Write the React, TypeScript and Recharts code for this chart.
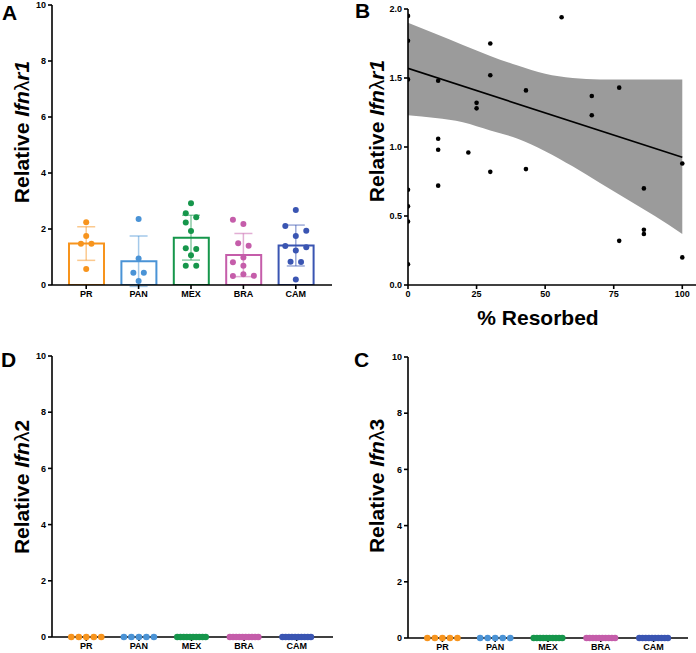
import { ComposedChart, Bar, Cell, Scatter, ErrorBar, XAxis, YAxis, Area, Line } from 'recharts';

const groups = ['PR', 'PAN', 'MEX', 'BRA', 'CAM'];
const groupColors = ['#F7941D', '#4A93D6', '#16964B', '#C55DAA', '#3A55B2'];

// Panel A: Ifnλr1 per group (bar = mean, whisker = SD)
const r1Means = [1.48, 0.85, 1.69, 1.07, 1.41];
const r1Sd = [0.6, 0.9, 0.8, 0.77, 0.73];
const r1Values = [
  [2.24, 1.75, 1.47, 1.47, 0.57],
  [2.36, 0.95, 0.44, 0.44, 0.14],
  [2.92, 2.56, 2.42, 2.23, 1.93, 1.31, 1.29, 1.06, 0.69, 0.69],
  [2.33, 2.18, 1.49, 1.4, 0.98, 0.81, 0.69, 0.38, 0.32, 0.33],
  [2.68, 2.11, 1.94, 1.75, 1.39, 1.35, 1.23, 0.83, 0.82, 0.2],
];
const r1Jitter = [
  [0, 0, -0.1, 0.1, 0],
  [0, 0, -0.1, 0.1, 0],
  [0, -0.1, 0.1, -0.1, 0, -0.1, 0.1, 0, -0.1, 0.1],
  [-0.2, 0, -0.1, 0.1, 0, -0.2, 0, 0, -0.2, 0.2],
  [0, -0.2, 0.2, 0, -0.2, 0.2, 0, -0.1, 0.1, 0],
];

// Panels D and C: Ifnλ2 / Ifnλ3, all samples at zero
const l2Values = [
  [0, 0, 0, 0, 0],
  [0, 0, 0, 0, 0],
  [0, 0, 0, 0, 0, 0, 0, 0, 0, 0],
  [0, 0, 0, 0, 0, 0, 0, 0, 0, 0],
  [0, 0, 0, 0, 0, 0, 0, 0, 0, 0],
];
const l3Values = [
  [0, 0, 0, 0, 0],
  [0, 0, 0, 0, 0],
  [0, 0, 0, 0, 0, 0, 0, 0, 0, 0],
  [0, 0, 0, 0, 0, 0, 0, 0, 0, 0],
  [0, 0, 0, 0, 0, 0, 0, 0, 0, 0],
];
const jitter5 = [-0.285, -0.143, 0, 0.143, 0.285];
const jitter10 = [-0.27, -0.21, -0.15, -0.09, -0.03, 0.03, 0.09, 0.15, 0.21, 0.27];
const zeroJitter = [jitter5, jitter5, jitter10, jitter10, jitter10];

// Panel B: % resorbed vs Ifnλr1
const resorbed = [0, 0, 0, 0, 0, 0, 0, 11, 11, 11, 11, 22, 25, 25, 30, 30, 30, 43, 43, 56, 67, 67, 77, 77, 86, 86, 86, 100, 100];
const r1Expr = [1.95, 1.77, 1.49, 0.69, 0.57, 0.46, 0.15, 1.48, 1.06, 0.98, 0.72, 0.96, 1.32, 1.28, 1.75, 1.52, 0.82, 1.41, 0.84, 1.94, 1.37, 1.23, 1.43, 0.32, 0.7, 0.4, 0.37, 0.88, 0.2];
const fitX = [0, 100];
const fitY = [1.57, 0.925];
const bandX = [0, 10, 20, 30, 40, 50, 60, 70, 80, 90, 100];
const bandHigh = [1.9, 1.82, 1.74, 1.66, 1.59, 1.53, 1.5, 1.49, 1.49, 1.49, 1.49];
const bandLow = [1.23, 1.21, 1.18, 1.12, 1.06, 0.97, 0.86, 0.74, 0.62, 0.5, 0.37];

const font = '"Liberation Sans", Arial, Helvetica, sans-serif';
const tickStyle = { fontSize: 9, fontWeight: 700, fill: '#000', fontFamily: font };
const axisStroke = { stroke: '#000', strokeWidth: 1.6 };

function YTitle({ x, y, tail, tailItalic }: { x: number; y: number; tail: string; tailItalic: boolean }) {
  return (
    <text
      x={x}
      y={y}
      transform={`rotate(-90 ${x} ${y})`}
      textAnchor="middle"
      dominantBaseline="central"
      fontFamily={font}
      fontSize={21}
      fontWeight={700}
      fill="#000"
    >
      Relative{' '}
      <tspan fontStyle="italic">Ifn</tspan>
      <tspan fontWeight={400}>λ</tspan>
      <tspan fontStyle={tailItalic ? 'italic' : 'normal'}>{tail}</tspan>
    </text>
  );
}

interface GroupPanelProps {
  left: number;
  top: number;
  width: number;
  height: number;
  margin: { top: number; right: number; bottom: number; left: number };
  xHeight: number;
  yWidth: number;
  values: number[][];
  jitter: number[][];
  means?: number[];
  sd?: number[];
  tail: string;
  tailItalic: boolean;
  titleX: number;
  titleY: number;
  dotR: number;
  padRight: number;
}

function GroupPanel(p: GroupPanelProps) {
  const dots = groups.map((_, i) => p.values[i].map((v, j) => ({ x: i + p.jitter[i][j], y: v })));
  const bars = groups.map((_, i) => ({ x: i, y: p.means ? p.means[i] : 0 }));
  const pad = { left: 8, right: p.padRight };
  // only the bar panel needs the fixed domain enforced (SD whisker dips below 0)
  const clip = !!p.means;
  return (
    <ComposedChart
      style={{ position: 'absolute', left: p.left, top: p.top }}
      width={p.width}
      height={p.height}
      margin={p.margin}
      data={bars}
    >
      <XAxis
        type="number"
        dataKey="x"
        domain={[-0.5, 4.5]}
        ticks={[0, 1, 2, 3, 4]}
        tickFormatter={(i: number) => groups[i]}
        padding={pad}
        height={p.xHeight}
        tick={tickStyle}
        tickSize={4}
        tickMargin={2}
        axisLine={axisStroke}
        tickLine={axisStroke}
      />
      <XAxis xAxisId="pts" type="number" dataKey="x" domain={[-0.5, 4.5]} padding={pad} hide />
      <YAxis
        type="number"
        domain={[0, 10]}
        allowDataOverflow={clip}
        ticks={[0, 2, 4, 6, 8, 10]}
        width={p.yWidth}
        tick={tickStyle}
        tickSize={4}
        tickMargin={2}
        axisLine={axisStroke}
        tickLine={axisStroke}
        label={() => <YTitle x={p.titleX} y={p.titleY} tail={p.tail} tailItalic={p.tailItalic} />}
      />
      {p.means && (
        <Bar dataKey="y" barSize={35} fill="#fff" strokeWidth={2} isAnimationActive={false}>
          {bars.map((_, i) => (
            <Cell key={i} stroke={groupColors[i]} />
          ))}
        </Bar>
      )}
      {p.means &&
        groups.map((g, i) => (
          <Scatter
            key={'err-' + g}
            xAxisId="pts"
            data={[{ x: i, y: p.means![i], err: p.sd![i] }]}
            dataKey="y"
            shape={() => <g />}
            isAnimationActive={false}
          >
            <ErrorBar dataKey="err" direction="y" width={9} stroke={groupColors[i]} strokeOpacity={0.5} strokeWidth={1.5} />
          </Scatter>
        ))}
      {groups.map((g, i) => (
        <Scatter
          key={g}
          xAxisId="pts"
          data={dots[i]}
          dataKey="y"
          isAnimationActive={false}
          shape={(s: any) => <circle cx={s.cx} cy={s.cy} r={p.dotR} fill={groupColors[i]} />}
        />
      ))}
    </ComposedChart>
  );
}

function ResorbedPanel() {
  const points = resorbed.map((x, i) => ({ x, y: r1Expr[i] }));
  const fit = fitX.map((x, i) => ({ x, y: fitY[i] }));
  const band = bandX.map((x, i) => ({ x, band: [bandLow[i], bandHigh[i]] }));
  return (
    <ComposedChart
      style={{ position: 'absolute', left: 340, top: 0 }}
      width={356}
      height={340}
      margin={{ top: 9, right: 0, bottom: 0, left: 0 }}
    >
      <XAxis
        type="number"
        dataKey="x"
        domain={[0, 105]}
        allowDataOverflow
        ticks={[0, 25, 50, 75, 100]}
        height={55}
        tick={tickStyle}
        tickSize={4}
        tickMargin={2}
        axisLine={axisStroke}
        tickLine={axisStroke}
        label={() => (
          <text x={198} y={325} textAnchor="middle" fontFamily={font} fontSize={21} fontWeight={700} fill="#000">
            % Resorbed
          </text>
        )}
      />
      <YAxis
        type="number"
        domain={[0, 2]}
        allowDataOverflow
        ticks={[0, 0.5, 1, 1.5, 2]}
        tickFormatter={(v: number) => v.toFixed(1)}
        width={68}
        tick={tickStyle}
        tickSize={4}
        tickMargin={2}
        axisLine={axisStroke}
        tickLine={axisStroke}
        label={() => <YTitle x={36} y={131} tail="r1" tailItalic />}
      />
      <Area data={band} dataKey="band" type="monotone" fill="#9b9b9b" fillOpacity={1} stroke="none" isAnimationActive={false} />
      <Line data={fit} dataKey="y" stroke="#000" strokeWidth={1.6} dot={false} isAnimationActive={false} />
      <Scatter
        data={points}
        dataKey="y"
        isAnimationActive={false}
        shape={(s: any) => <circle cx={s.cx} cy={s.cy} r={2.3} fill="#000" />}
      />
    </ComposedChart>
  );
}

export default function App() {
  return (
    <div style={{ position: 'absolute', left: 0, top: 0, width: 696, height: 653, background: '#fff', fontFamily: font }}>
      <GroupPanel
        left={0}
        top={0}
        width={340}
        height={320}
        margin={{ top: 5, right: 8, bottom: 5, left: 0 }}
        xHeight={30}
        yWidth={52}
        values={r1Values}
        jitter={r1Jitter}
        means={r1Means}
        sd={r1Sd}
        tail="r1"
        tailItalic
        titleX={21}
        titleY={132}
        dotR={3}
        padRight={10}
      />
      <ResorbedPanel />
      <GroupPanel
        left={0}
        top={320}
        width={340}
        height={333}
        margin={{ top: 36, right: 7, bottom: 0, left: 0 }}
        xHeight={16}
        yWidth={52}
        values={l2Values}
        jitter={zeroJitter}
        tail="2"
        tailItalic={false}
        titleX={21}
        titleY={167}
        dotR={3.3}
        padRight={10}
      />
      <GroupPanel
        left={340}
        top={320}
        width={356}
        height={333}
        margin={{ top: 37, right: 8, bottom: 0, left: 0 }}
        xHeight={15}
        yWidth={68}
        values={l3Values}
        jitter={zeroJitter}
        tail="3"
        tailItalic={false}
        titleX={36}
        titleY={166}
        dotR={3.3}
        padRight={8}
      />
      <svg
        width={696}
        height={653}
        style={{ position: 'absolute', left: 0, top: 0, pointerEvents: 'none' }}
        fontFamily={font}
        fontSize={21}
        fontWeight={700}
      >
        <text x={2} y={20}>A</text>
        <text x={355} y={18}>B</text>
        <text x={1} y={367}>D</text>
        <text x={354} y={367}>C</text>
      </svg>
    </div>
  );
}
